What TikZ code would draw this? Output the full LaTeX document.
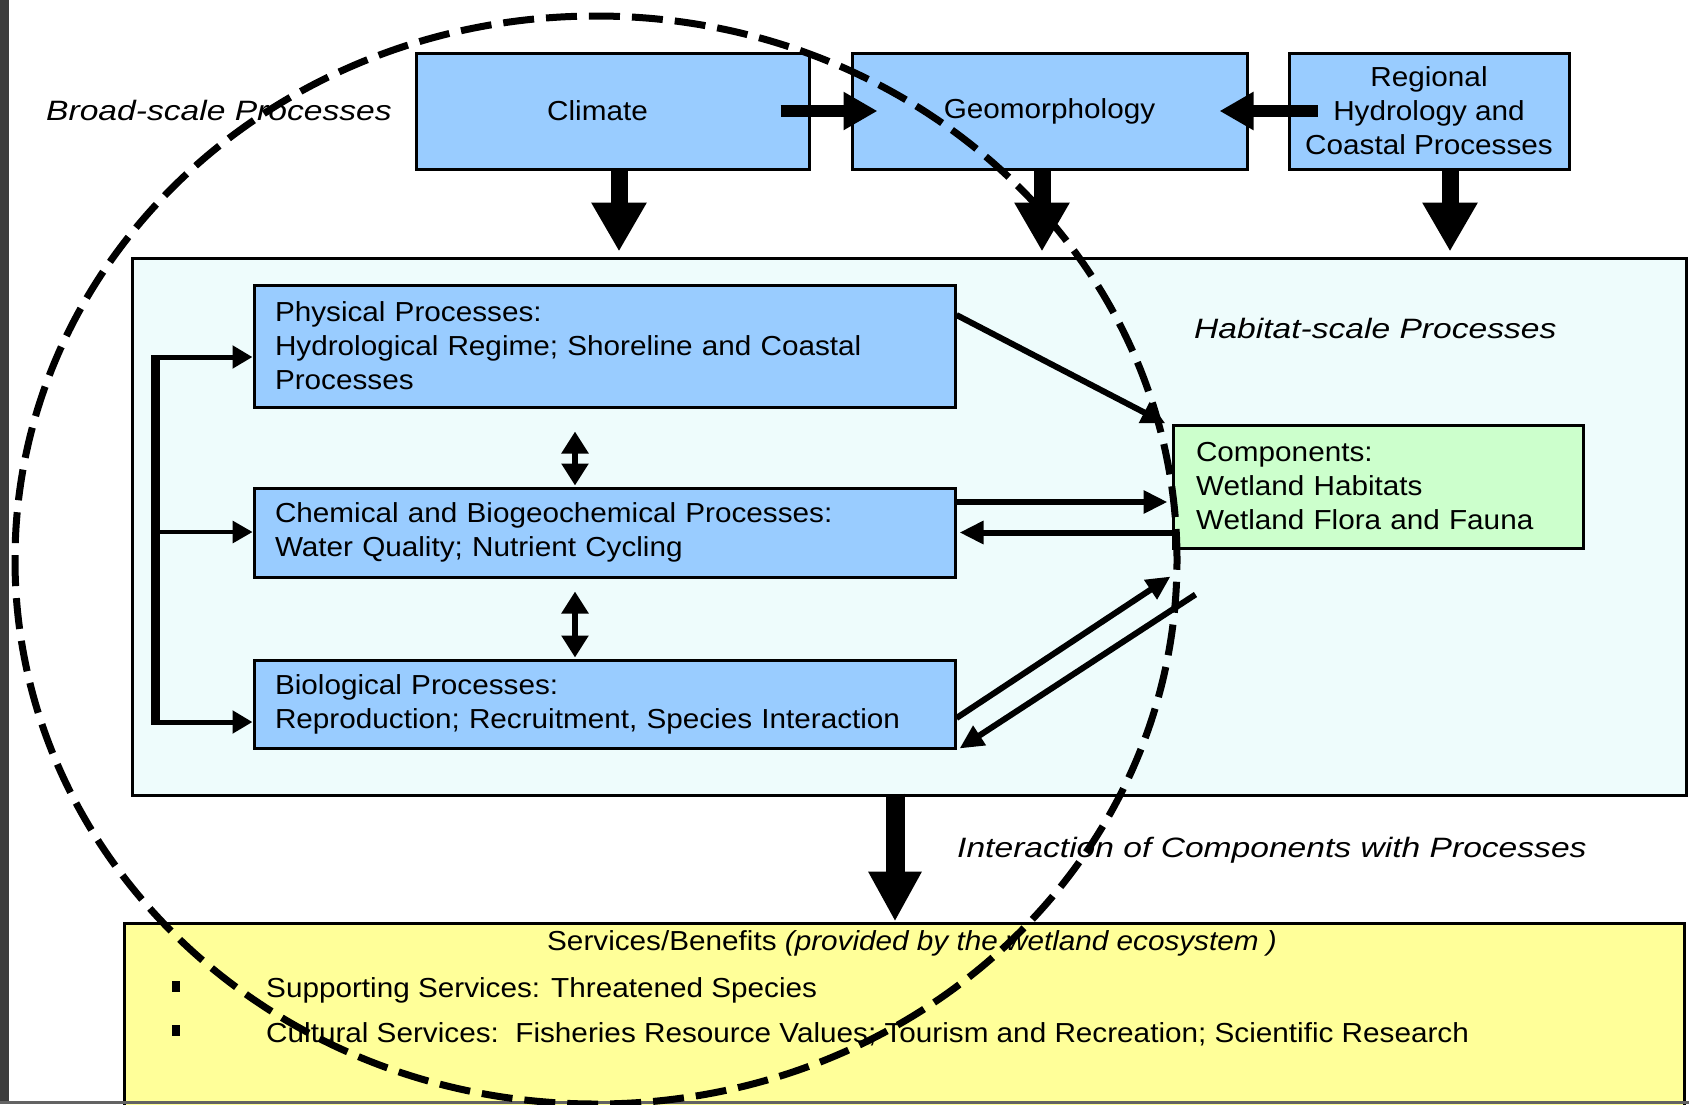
\documentclass[tikz,border=0pt]{standalone}
\usepackage{fontspec}
\setmainfont{Liberation Sans}[FakeStretch=1.08]
\newfontfamily\labfont{Liberation Sans}[FakeStretch=1.2]
\usetikzlibrary{arrows.meta,calc}
\definecolor{boxblue}{HTML}{99CCFF}
\definecolor{habbg}{HTML}{EEFCFC}
\definecolor{compgreen}{HTML}{CCFFCC}
\definecolor{servyellow}{HTML}{FFFF99}
\definecolor{edgebar}{HTML}{3C3C3C}
\newcommand{\mainfs}{\fontsize{27.5}{34}\selectfont}
\newcommand{\labfs}{\labfont\itshape\fontsize{28}{34}\selectfont}
\tikzset{
  procbox/.style={draw=black, line width=3pt, fill=boxblue, inner sep=0pt},
  bigarr/.style={line width=17pt, -{Triangle[width=52pt,length=49pt]}},
  sidearr/.style={line width=12pt, -{Triangle[width=36pt,length=34pt]}},
  diagarr/.style={line width=6pt, -{Triangle[width=22pt,length=24pt]}},
  dblarr/.style={line width=6pt, {Triangle[width=26pt,length=22pt]}-{Triangle[width=26pt,length=22pt]}},
  smallarr/.style={-{Triangle[width=22pt,length=20pt]}},
  lab/.style={font=\labfs, inner sep=0pt},
  ellipsedash/.style={line width=7pt, dash pattern=on 31pt off 12pt}
}
\begin{document}
\begin{tikzpicture}[x=1pt,y=-1pt, every node/.style={font=\mainfs}]
\useasboundingbox (0,0) rectangle (1689,1104);
\fill[white] (0,0) rectangle (1689,1104);

% habitat region
\node[draw=black, line width=3pt, fill=habbg, minimum width=1554pt, minimum height=537pt, inner sep=0pt] (hab) at (909,526.5) {};

% services region
\node[draw=black, line width=3pt, fill=servyellow, minimum width=1560pt, minimum height=187pt, inner sep=0pt] (serv) at (904,1016.5) {};

% broad-scale boxes
\node[procbox, minimum width=393pt, minimum height=116pt] (climate) at (612.5,111) {Climate\hspace*{30pt}};
\node[procbox, minimum width=395pt, minimum height=116pt] (geo) at (1049.5,111) {Geomorphology};
\node[procbox, minimum width=280pt, minimum height=116pt, align=center] (reg) at (1429,111) {Regional\\Hydrology and\\Coastal Processes};

% habitat-scale boxes
\node[procbox, minimum width=701pt, minimum height=122pt, text width=659pt, inner xsep=21pt, align=left] (phys) at (604.5,346) {Physical Processes:\\Hydrological Regime; Shoreline and Coastal\\Processes};
\node[procbox, minimum width=701pt, minimum height=89pt, text width=659pt, inner xsep=21pt, align=left] (chem) at (604.5,532.5) {Chemical and Biogeochemical Processes:\\Water Quality; Nutrient Cycling};
\node[procbox, minimum width=701pt, minimum height=88pt, text width=659pt, inner xsep=21pt, align=left] (bio) at (604.5,704) {Biological Processes:\\Reproduction; Recruitment, Species Interaction};
\node[procbox, fill=compgreen, minimum width=410pt, minimum height=123pt, text width=364pt, inner xsep=23pt, align=left] (comp) at (1378,486.5) {Components:\\Wetland Habitats\\Wetland Flora and Fauna};

% labels
\node[lab, anchor=west] (lbroad) at (46,110) {Broad-scale Processes};
\node[lab, anchor=west] (lhab) at (1194,328) {Habitat-scale Processes};
\node[lab, anchor=west] (linter) at (957,850) {Interaction of Components with Processes};

% services text
\node[inner sep=0pt] (svtitle) at (912,943) {Services/Benefits \textit{(provided by the wetland ecosystem )}};
\fill[black] (172,981) rectangle (180,992);
\fill[black] (172,1025) rectangle (180,1036);
\node[anchor=west, inner sep=0pt] (sv1) at (266,990) {Supporting Services: Threatened Species};
\node[anchor=west, inner sep=0pt] (sv2) at (266,1034) {Cultural Services:\ \ Fisheries Resource Values; Tourism and Recreation; Scientific Research};

% broad-scale arrows
\draw[sidearr] ([xshift=-30pt]climate.east) -- ([xshift=27pt]geo.west);
\draw[sidearr] ([xshift=30pt]reg.west) -- ([xshift=-29pt]geo.east);
\draw[bigarr] ([xshift=6.5pt]climate.south) -- ([xshift=6.5pt,yshift=5pt]climate.south |- hab.north);
\draw[bigarr] ([xshift=-7.5pt]geo.south) -- ([xshift=-7.5pt,yshift=5pt]geo.south |- hab.north);
\draw[bigarr] ([xshift=21pt]reg.south) -- ([xshift=21pt,yshift=5pt]reg.south |- hab.north);

% left bracket
\coordinate (bt) at (155,357);
\coordinate (bm) at (155,532);
\coordinate (bb) at (155,722);
\draw[line width=9pt] (bt) -- (bb);
\draw[smallarr, line width=5pt] ([xshift=-4pt]bt) -- (bt -| phys.west);
\draw[smallarr, line width=3.5pt] (bm) -- (bm -| chem.west);
\draw[smallarr, line width=5pt] ([xshift=-4pt]bb) -- (bb -| bio.west);

% vertical double arrows
\draw[dblarr] ([xshift=-29.5pt,yshift=-23pt]phys.south) -- ([xshift=-29.5pt,yshift=1pt]chem.north);
\draw[dblarr] ([xshift=-29.5pt,yshift=-13pt]chem.south) -- ([xshift=-29.5pt,yshift=1pt]bio.north);

% interactions with components
\draw[diagarr] ([yshift=31pt]phys.east) -- ([xshift=-6pt]comp.north west);
\draw[diagarr] ([yshift=30.5pt]chem.east) -- ([yshift=30.5pt,xshift=-4pt]chem.east -| comp.west);
\draw[diagarr] (chem.east -| comp.west) -- ([xshift=3pt]chem.east);
\draw[diagarr] ([yshift=-14pt]bio.east) -- ([xshift=-1pt,yshift=-27pt]comp.south west);
\draw[diagarr] ([xshift=24pt,yshift=-45pt]comp.south west) -- ([xshift=3pt,yshift=1pt]bio.south east);

% to services
\draw[line width=19pt, -{Triangle[width=50pt,length=50pt]}] ([xshift=-14pt,yshift=3pt]hab.south) -- ([xshift=-14pt]hab.south |- serv.north);

% edges of the scan
\fill[edgebar] (0,0) rectangle (9,1104);
\fill[edgebar!80] (0,1101) rectangle (1689,1104);

% dashed ellipse
\draw[ellipsedash] (596,560) ellipse [x radius=581pt, y radius=544pt];
\end{tikzpicture}
\end{document}
